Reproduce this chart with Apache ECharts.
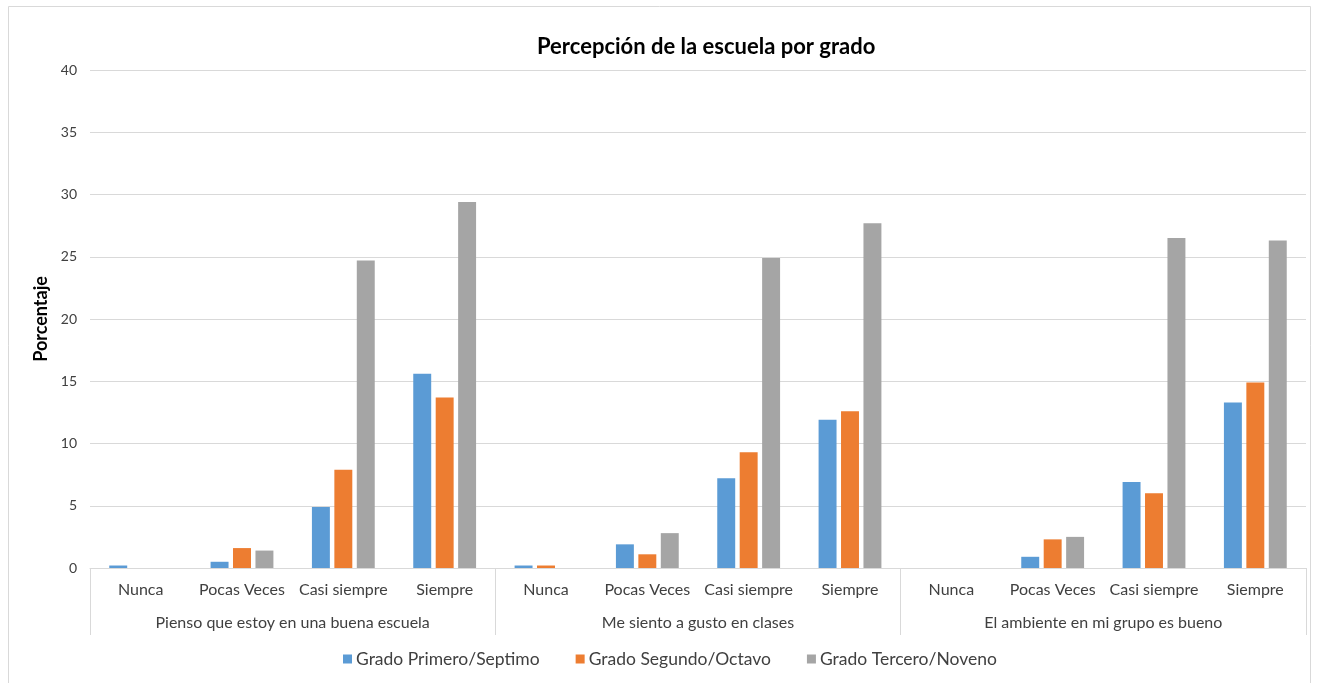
<!DOCTYPE html>
<html>
<head>
<meta charset="utf-8">
<title>Percepción de la escuela por grado</title>
<script src="https://cdn.jsdelivr.net/npm/echarts@6/dist/echarts.min.js"></script>
<style>
  html, body { margin: 0; padding: 0; background: #ffffff; }
  #chart { width: 1327px; height: 683px; }
</style>
</head>
<body>
<div id="chart"></div>
<script>
// Response options shown under each group
const responses = ['Nunca', 'Pocas Veces', 'Casi siempre', 'Siempre'];
// Survey statements (outer category level)
const statements = [
  'Pienso que estoy en una buena escuela',
  'Me siento a gusto en clases',
  'El ambiente en mi grupo es bueno'
];
const seriesNames = ['Grado Primero/Septimo', 'Grado Segundo/Octavo', 'Grado Tercero/Noveno'];

// Percentages, in order: statement 1 (4 responses), statement 2, statement 3
const primeroSeptimo = [0.2, 0.5, 4.9, 15.6,   0.2, 1.9, 7.2, 11.9,   0, 0.9, 6.9, 13.3];
const segundoOctavo  = [0,   1.6, 7.9, 13.7,   0.2, 1.1, 9.3, 12.6,   0, 2.3, 6.0, 14.9];
const terceroNoveno  = [0,   1.4, 24.7, 29.4,  0,   2.8, 24.9, 27.7,  0, 2.5, 26.5, 26.3];

const yTicks = { min: 0, max: 40, interval: 5 };

const colors = ['#5B9BD5', '#ED7D31', '#A5A5A5'];
const FONT = 'Lato, "Open Sans", sans-serif';

// Flat list of inner categories (responses repeated for each statement)
const innerCats = [];
statements.forEach(() => responses.forEach(r => innerCats.push(r)));

const values = [primeroSeptimo, segundoOctavo, terceroNoveno];

const chart = echarts.init(document.getElementById('chart'), null, { renderer: 'canvas' });

chart.setOption({
  backgroundColor: '#ffffff',
  animation: false,
  color: colors,
  title: {
    text: 'Percepción de la escuela por grado',
    left: 532,
    top: 31,
    textStyle: { fontFamily: FONT, fontSize: 22, fontWeight: 'bold', color: '#000000' }
  },
  legend: {
    bottom: 10,
    left: 338,
    itemWidth: 9,
    itemHeight: 9,
    itemGap: 36,
    icon: 'rect',
    textStyle: { fontFamily: FONT, fontSize: 17.5, color: '#404040', padding: [0, 0, 0, -1] },
    data: seriesNames
  },
  grid: { left: 90, right: 21, top: 70, bottom: 115, containLabel: false },
  xAxis: [
    {
      type: 'category',
      data: innerCats,
      position: 'bottom',
      axisLine: { show: true, lineStyle: { color: '#d9d9d9', width: 1 } },
      axisTick: { show: false },
      axisLabel: { interval: 0, margin: 14, fontFamily: FONT, fontSize: 16, color: '#404040' }
    },
    {
      type: 'category',
      data: statements,
      position: 'bottom',
      axisLine: { show: false },
      axisTick: { show: true, length: 67, lineStyle: { color: '#d9d9d9', width: 1 } },
      axisLabel: { interval: 0, margin: 47, fontFamily: FONT, fontSize: 16, color: '#404040' },
      splitLine: { show: false }
    }
  ],
  yAxis: {
    type: 'value',
    min: yTicks.min,
    max: yTicks.max,
    interval: yTicks.interval,
    name: 'Porcentaje',
    nameLocation: 'middle',
    nameRotate: 90,
    nameGap: 38,
    nameTextStyle: { fontFamily: FONT, fontSize: 18, fontWeight: 'bold', color: '#000000' },
    axisLine: { show: false },
    axisTick: { show: false },
    axisLabel: { margin: 13, fontFamily: FONT, fontSize: 14, color: '#404040' },
    splitLine: { lineStyle: { color: '#d9d9d9', width: 1 } }
  },
  series: seriesNames.map((name, i) => ({
    name,
    type: 'bar',
    xAxisIndex: 0,
    data: values[i],
    barGap: '25%',
    barCategoryGap: '38%',
    itemStyle: { color: colors[i] }
  })),
  graphic: [
    {
      type: 'rect',
      shape: { x: 8.5, y: 6.5, width: 1302, height: 690 },
      style: { fill: 'none', stroke: '#d9d9d9', lineWidth: 1 },
      silent: true,
      z: -1
    }
  ]
});
</script>
</body>
</html>
